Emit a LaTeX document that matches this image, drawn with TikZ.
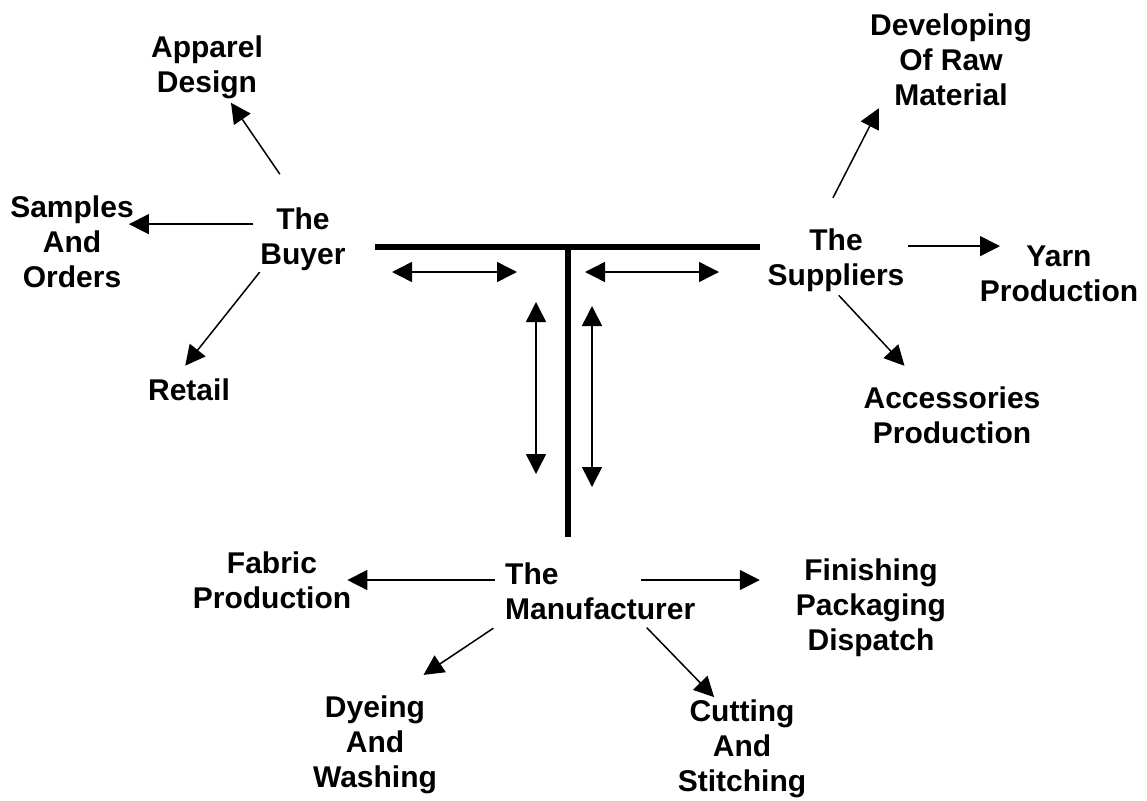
\documentclass[tikz,border=0pt]{standalone}
\usepackage{fontspec}
\setmainfont{Liberation Sans}
\usetikzlibrary{arrows.meta}

\begin{document}
\begin{tikzpicture}[> = {Triangle[length=20pt,width=20pt]}, % arrow head style
	x=1pt,y=-1pt,
	link/.style={->,line width=1.5pt},
	both/.style={<->,line width=1.5pt},
	bar/.style={line width=6pt},
	every node/.style={font=\fontsize{30}{35}\selectfont\bfseries,align=center,inner sep=0pt,anchor=north}]
	\useasboundingbox (0,0) rectangle (1147,800);

	% the T in the middle
	\coordinate (tl) at (375,247);
	\coordinate (tr) at (760,247);
	\coordinate (tm) at (568,244);
	\coordinate (tb) at (568,537);
	\draw[bar] (tl)--(tr);
	\draw[bar] (tm)--(tb);

	\coordinate (a1) at (392,272);
	\coordinate (a2) at (517,272);
	\coordinate (b1) at (585,272);
	\coordinate (b2) at (719,272);
	\coordinate (c1) at (536,302);
	\coordinate (c2) at (536,474);
	\coordinate (d1) at (592,306);
	\coordinate (d2) at (592,487);
	\draw[both] (a1)--(a2);
	\draw[both] (b1)--(b2);
	\draw[both] (c1)--(c2);
	\draw[both] (d1)--(d2);

	% buyer
	\node (buyer) at (303,208)		{The\\Buyer};
	\node (apparel) at (207,36)		{Apparel\\Design};
	\node (samples) at (72,196)		{Samples\\And\\Orders};
	\node (retail) at (189,379)		{Retail};

	\draw[link,shorten <=41pt,shorten >=4pt] (buyer.north)--(apparel);
	\draw[link,shorten <=7pt,shorten >=-5pt] (buyer.160)--(buyer.160 -| samples.east);
	\draw[link,shorten <=1pt,shorten >=17pt] (buyer.south west)--(retail.142);

	% suppliers
	\node (suppliers) at (836,229)	{The\\Suppliers};
	\node (developing) at (951,14)	{Developing\\Of Raw\\Material};
	\node (yarn) at (1059,246)		{Yarn\\Production};
	\node (accessories) at (952,387)	{Accessories\\Production};

	\draw[link,shorten <=35pt,shorten >=2pt] (suppliers.121)--(developing.213);
	\draw[link,shorten <=3pt,shorten >=59pt] (suppliers.12)--(suppliers.12 -| yarn.north);
	\draw[link,shorten <=4pt,shorten >=29pt] (suppliers.south)--(accessories.134);

	% manufacturer
	\node[anchor=north west,align=left] (manufacturer) at (505,563) {The\\Manufacturer};
	\node (fabric) at (272,552)		{Fabric\\Production};
	\node (finishing) at (871,559)	{Finishing\\Packaging\\Dispatch};
	\node (dyeing) at (375,696)		{Dyeing\\And\\Washing};
	\node (cutting) at (742,700)	{Cutting\\And\\Stitching};

	\draw[link,shorten <=10pt,shorten >=-4pt] (manufacturer.173)--(manufacturer.173 -| fabric.east);
	\draw[link,shorten <=-54pt,shorten >=36pt] (manufacturer.7)--(manufacturer.7 -| finishing.west);
	\draw[link,shorten <=14pt,shorten >=38pt] (manufacturer.south west)--(dyeing.71);
	\draw[link,shorten <=10pt,shorten >=4pt] (manufacturer.324)--(cutting.117);

\end{tikzpicture}
\end{document}
